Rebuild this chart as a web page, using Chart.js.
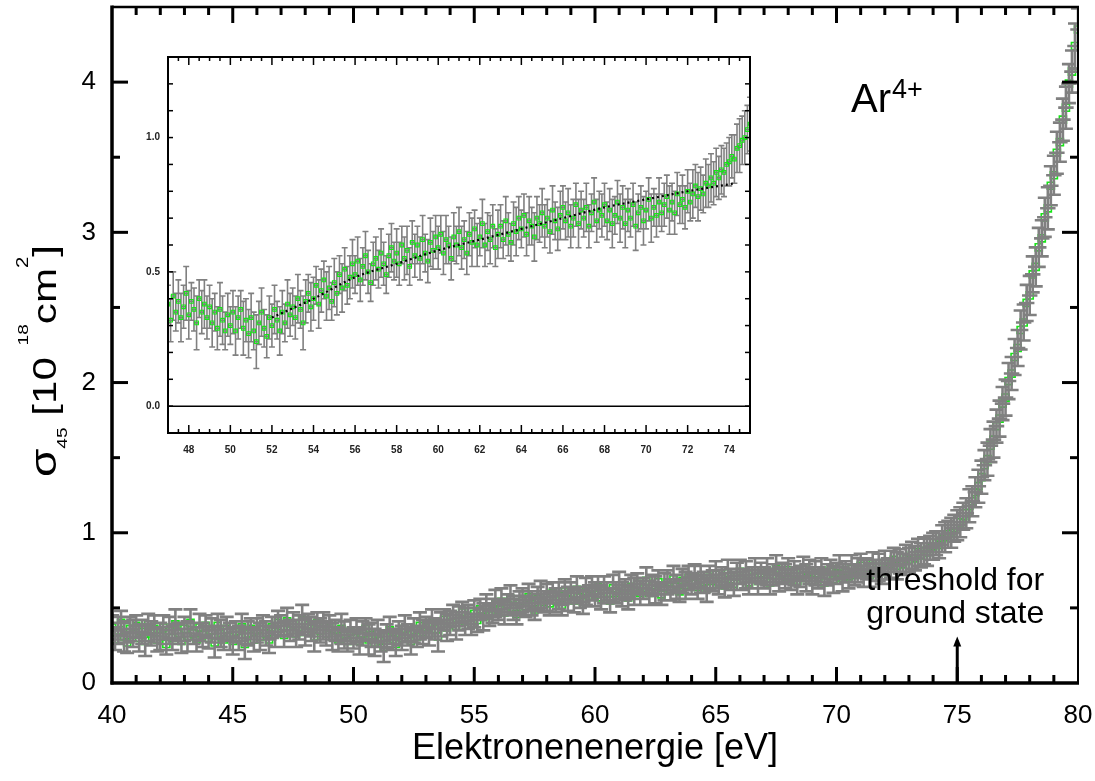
<!DOCTYPE html>
<html><head><meta charset="utf-8">
<script src="https://cdn.jsdelivr.net/npm/chart.js@4.4.1/dist/chart.umd.min.js"></script>
<style>
html,body{margin:0;padding:0;background:#fff;}
#wrap{position:relative;width:1095px;height:781px;overflow:hidden;}
#main{position:absolute;left:0;top:0;}
#inset{position:absolute;left:130px;top:45px;}
</style></head><body>
<div id="wrap"><canvas id="main" width="1095" height="781"></canvas><canvas id="inset" width="630" height="420"></canvas></div>
<script>
// ---------- DATA ----------
const energies = [
 40,40.125,40.25,40.375,40.5,40.625,40.75,40.875,
 41,41.125,41.25,41.375,41.5,41.625,41.75,41.875,
 42,42.125,42.25,42.375,42.5,42.625,42.75,42.875,
 43,43.125,43.25,43.375,43.5,43.625,43.75,43.875,
 44,44.125,44.25,44.375,44.5,44.625,44.75,44.875,
 45,45.125,45.25,45.375,45.5,45.625,45.75,45.875,
 46,46.125,46.25,46.375,46.5,46.625,46.75,46.875,
 47,47.125,47.25,47.375,47.5,47.625,47.75,47.875,
 48,48.125,48.25,48.375,48.5,48.625,48.75,48.875,
 49,49.125,49.25,49.375,49.5,49.625,49.75,49.875,
 50,50.125,50.25,50.375,50.5,50.625,50.75,50.875,
 51,51.125,51.25,51.375,51.5,51.625,51.75,51.875,
 52,52.125,52.25,52.375,52.5,52.625,52.75,52.875,
 53,53.125,53.25,53.375,53.5,53.625,53.75,53.875,
 54,54.125,54.25,54.375,54.5,54.625,54.75,54.875,
 55,55.125,55.25,55.375,55.5,55.625,55.75,55.875,
 56,56.125,56.25,56.375,56.5,56.625,56.75,56.875,
 57,57.125,57.25,57.375,57.5,57.625,57.75,57.875,
 58,58.125,58.25,58.375,58.5,58.625,58.75,58.875,
 59,59.125,59.25,59.375,59.5,59.625,59.75,59.875,
 60,60.125,60.25,60.375,60.5,60.625,60.75,60.875,
 61,61.125,61.25,61.375,61.5,61.625,61.75,61.875,
 62,62.125,62.25,62.375,62.5,62.625,62.75,62.875,
 63,63.125,63.25,63.375,63.5,63.625,63.75,63.875,
 64,64.125,64.25,64.375,64.5,64.625,64.75,64.875,
 65,65.125,65.25,65.375,65.5,65.625,65.75,65.875,
 66,66.125,66.25,66.375,66.5,66.625,66.75,66.875,
 67,67.125,67.25,67.375,67.5,67.625,67.75,67.875,
 68,68.125,68.25,68.375,68.5,68.625,68.75,68.875,
 69,69.125,69.25,69.375,69.5,69.625,69.75,69.875,
 70,70.125,70.25,70.375,70.5,70.625,70.75,70.875,
 71,71.125,71.25,71.375,71.5,71.625,71.75,71.875,
 72,72.125,72.25,72.375,72.5,72.625,72.75,72.875,
 73,73.125,73.25,73.375,73.5,73.625,73.75,73.875,
 74,74.125,74.25,74.375,74.5,74.625,74.75,74.875,
 75,75.125,75.25,75.375,75.5,75.625,75.75,75.875,
 76,76.125,76.25,76.375,76.5,76.625,76.75,76.875,
 77,77.125,77.25,77.375,77.5,77.625,77.75,77.875,
 78,78.125,78.25,78.375,78.5,78.625,78.75,78.875,
 79,79.125,79.25,79.375,79.5,79.625,79.75,79.875,
 80];
const sigma = [
 0.37,0.29,0.35,0.40,0.31,0.27,0.36,0.33,
 0.38,0.30,0.34,0.28,0.39,0.33,0.36,0.29,
 0.31,0.37,0.26,0.35,0.30,0.39,0.33,0.28,
 0.36,0.31,0.40,0.33,0.29,0.37,0.32,0.38,
 0.30,0.35,0.27,0.38,0.33,0.29,0.36,0.31,
 0.28,0.34,0.30,0.37,0.26,0.33,0.36,0.29,
 0.35,0.31,0.38,0.33,0.29,0.37,0.34,0.40,
 0.38,0.32,0.41,0.35,0.39,0.33,0.37,0.42,
 0.34,0.39,0.36,0.31,0.40,0.35,0.38,0.33,
 0.37,0.31,0.35,0.29,0.36,0.32,0.28,0.34,
 0.30,0.35,0.28,0.33,0.36,0.29,0.32,0.27,
 0.33,0.28,0.24,0.31,0.35,0.29,0.26,0.33,
 0.30,0.36,0.32,0.28,0.35,0.31,0.38,0.34,
 0.37,0.33,0.40,0.36,0.31,0.39,0.42,0.37,
 0.40,0.45,0.38,0.43,0.47,0.41,0.44,0.39,
 0.46,0.42,0.49,0.44,0.51,0.45,0.48,0.53,
 0.49,0.54,0.47,0.52,0.56,0.50,0.46,0.53,
 0.55,0.51,0.57,0.53,0.49,0.56,0.59,0.54,
 0.57,0.53,0.60,0.55,0.58,0.52,0.61,0.56,
 0.60,0.55,0.62,0.57,0.54,0.61,0.58,0.63,
 0.59,0.64,0.57,0.62,0.60,0.55,0.63,0.60,
 0.65,0.59,0.62,0.57,0.64,0.61,0.66,0.60,
 0.63,0.68,0.60,0.65,0.62,0.67,0.59,0.64,
 0.67,0.62,0.69,0.64,0.61,0.68,0.65,0.70,
 0.66,0.71,0.64,0.69,0.67,0.63,0.70,0.68,
 0.72,0.67,0.70,0.65,0.73,0.69,0.66,0.71,
 0.74,0.69,0.72,0.67,0.70,0.75,0.68,0.73,
 0.70,0.74,0.67,0.72,0.76,0.69,0.73,0.71,
 0.75,0.69,0.73,0.68,0.71,0.76,0.70,0.74,
 0.68,0.73,0.70,0.75,0.67,0.72,0.74,0.69,
 0.73,0.77,0.70,0.74,0.71,0.76,0.72,0.75,
 0.78,0.73,0.76,0.72,0.79,0.75,0.77,0.74,
 0.80,0.76,0.79,0.82,0.78,0.81,0.79,0.83,
 0.82,0.85,0.83,0.87,0.85,0.88,0.87,0.90,
 0.91,0.93,0.92,0.96,0.97,0.99,1.00,1.03,
 1.05,1.07,1.11,1.13,1.18,1.21,1.27,1.31,
 1.37,1.45,1.49,1.58,1.62,1.71,1.76,1.86,
 1.90,2.01,2.06,2.17,2.23,2.35,2.40,2.53,
 2.58,2.72,2.77,2.90,2.96,3.10,3.16,3.31,
 3.38,3.53,3.60,3.75,3.83,3.99,4.07,4.24,
 4.35];
const sigmaErr = [
 0.08,0.07,0.09,0.08,0.10,0.07,0.08,0.09,
 0.07,0.09,0.08,0.10,0.07,0.08,0.09,0.08,
 0.09,0.08,0.07,0.09,0.08,0.10,0.07,0.08,
 0.08,0.10,0.09,0.07,0.08,0.09,0.08,0.07,
 0.07,0.08,0.10,0.08,0.09,0.07,0.08,0.09,
 0.09,0.07,0.08,0.09,0.10,0.08,0.07,0.08,
 0.08,0.09,0.07,0.08,0.09,0.07,0.10,0.08,
 0.07,0.08,0.09,0.07,0.08,0.09,0.08,0.10,
 0.09,0.07,0.08,0.10,0.07,0.08,0.09,0.08,
 0.08,0.09,0.07,0.08,0.10,0.09,0.07,0.08,
 0.07,0.08,0.09,0.08,0.07,0.10,0.08,0.09,
 0.09,0.07,0.10,0.08,0.09,0.07,0.08,0.08,
 0.08,0.09,0.07,0.09,0.08,0.07,0.09,0.08,
 0.07,0.08,0.09,0.07,0.10,0.08,0.07,0.09,
 0.08,0.07,0.09,0.08,0.07,0.09,0.08,0.07,
 0.09,0.08,0.07,0.09,0.08,0.07,0.08,0.09,
 0.07,0.09,0.08,0.07,0.09,0.08,0.07,0.08,
 0.08,0.07,0.09,0.08,0.07,0.08,0.09,0.07,
 0.09,0.08,0.07,0.08,0.09,0.07,0.08,0.08,
 0.07,0.08,0.09,0.07,0.08,0.09,0.07,0.08,
 0.08,0.07,0.08,0.09,0.07,0.08,0.09,0.07,
 0.09,0.08,0.07,0.08,0.08,0.09,0.07,0.08,
 0.07,0.09,0.08,0.07,0.09,0.08,0.07,0.09,
 0.08,0.07,0.09,0.08,0.07,0.08,0.09,0.08,
 0.07,0.08,0.08,0.09,0.07,0.09,0.08,0.07,
 0.09,0.08,0.07,0.08,0.09,0.07,0.08,0.09,
 0.08,0.07,0.09,0.08,0.07,0.08,0.09,0.07,
 0.07,0.09,0.08,0.07,0.09,0.08,0.07,0.08,
 0.08,0.07,0.08,0.09,0.07,0.08,0.09,0.08,
 0.09,0.08,0.07,0.08,0.09,0.07,0.08,0.09,
 0.07,0.08,0.09,0.07,0.08,0.09,0.07,0.08,
 0.08,0.09,0.07,0.08,0.08,0.07,0.09,0.08,
 0.08,0.07,0.09,0.08,0.09,0.08,0.07,0.09,
 0.08,0.09,0.08,0.09,0.08,0.09,0.09,0.08,
 0.09,0.08,0.09,0.09,0.10,0.09,0.10,0.09,
 0.10,0.10,0.09,0.10,0.11,0.10,0.10,0.11,
 0.11,0.10,0.11,0.11,0.12,0.11,0.12,0.11,
 0.12,0.12,0.11,0.12,0.12,0.13,0.12,0.12,
 0.13,0.12,0.13,0.13,0.12,0.13,0.14,0.13,
 0.13,0.14,0.13,0.14,0.14,0.13,0.14,0.15,
 0.14];
const energyErrMain = 0.32;
const energyErrInset = 0.12;
const fitEnergies = [52, 54, 56, 58, 60, 62, 64, 66, 68, 70, 72, 74.3];
const fitSigma    = [0.33,0.40,0.48,0.53,0.58,0.62,0.66,0.70,0.74,0.77,0.80,0.83];
const mainXTicks = [40,45,50,55,60,65,70,75,80];
const mainYTicks = [0,1,2,3,4];
const insetXTicks = [48,50,52,54,56,58,60,62,64,66,68,70,72,74];
const insetYTicks = [0.0,0.5,1.0];
const thresholdEnergy = 75;
const ionLabel = 'Ar';
const ionCharge = '4+';
const thresholdLines = ['threshold for', 'ground state'];
const xTitle = 'Elektronenenergie [eV]';

// ---------- helpers ----------
const FONT = "'Liberation Sans', Arial, Helvetica, sans-serif";
const GREEN = '#16e616';
const GRAY = '#808080';

const mainPoints = energies.map((e,i)=>({x:e, y:sigma[i], err:sigmaErr[i]}));
const insetPoints = mainPoints.filter(p => p.x >= 47 && p.x <= 75);
const fitPoints = fitEnergies.map((e,i)=>({x:e, y:fitSigma[i]}));

function drawBars(chart, o) {
  const {ctx, scales:{x,y}, chartArea:a} = chart;
  const ds = chart.data.datasets[0].data;
  ctx.save();
  ctx.beginPath(); ctx.rect(a.left, a.top-4, a.right-a.left, a.bottom-a.top+4); ctx.clip();
  ctx.strokeStyle = o.color; ctx.lineWidth = o.lw; ctx.lineCap = 'butt';
  ctx.beginPath();
  for (const p of ds) {
    const px = x.getPixelForValue(p.x), py = y.getPixelForValue(p.y);
    const t = y.getPixelForValue(p.y + p.err), b = y.getPixelForValue(p.y - p.err);
    const l = x.getPixelForValue(p.x - o.xErr), r = x.getPixelForValue(p.x + o.xErr);
    ctx.moveTo(px, t); ctx.lineTo(px, b);
    ctx.moveTo(px - o.cap, t); ctx.lineTo(px + o.cap, t);
    ctx.moveTo(px - o.cap, b); ctx.lineTo(px + o.cap, b);
    ctx.moveTo(l, py); ctx.lineTo(r, py);
  }
  ctx.stroke(); ctx.restore();
}
// o.under: bars drawn under the points (true) or over them (false)
function errorBars(id, o) {
  return {
    id,
    beforeDatasetDraw(chart, args) { if (args.index === 0 && o.under) drawBars(chart, o); },
    afterDatasetDraw(chart, args) { if (args.index === 0 && !o.under) drawBars(chart, o); }
  };
}

function seg(ctx, x1, y1, x2, y2) { ctx.beginPath(); ctx.moveTo(x1,y1); ctx.lineTo(x2,y2); ctx.stroke(); }
function stepValues(a, b, s) { const out=[]; for (let v=a; v<=b+1e-9; v+=s) out.push(+v.toFixed(4)); return out; }

const mainFrame = { id:'mainFrame', afterDraw(chart) {
  const {ctx, chartArea:a, scales:{x,y}} = chart;
  ctx.save();
  ctx.strokeStyle = '#000'; ctx.fillStyle = '#000'; ctx.lineCap = 'butt';
  ctx.lineWidth = 3;
  for (const v of stepValues(41, 79, 1)) {
    const px = x.getPixelForValue(v);
    const len = (v % 5 === 0) ? 16 : 8;
    seg(ctx, px, a.bottom, px, a.bottom - len);
    seg(ctx, px, a.top, px, a.top + len);
  }
  for (const v of stepValues(0.5, 4.5, 0.5)) {
    const py = y.getPixelForValue(v);
    const len = Number.isInteger(v) ? 16 : 8;
    if (py < a.top + 2) continue;
    seg(ctx, a.left, py, a.left + len, py);
    seg(ctx, a.right, py, a.right - len, py);
  }
  ctx.lineWidth = 3.5;
  seg(ctx, a.left, a.top - 1.5, a.left, a.bottom + 1.5);
  seg(ctx, a.left - 1.5, a.bottom, a.right + 1, a.bottom);
  ctx.lineWidth = 2.5;
  seg(ctx, a.left, a.top, a.right + 1, a.top);
  ctx.lineWidth = 2;
  seg(ctx, a.right, a.top, a.right, a.bottom);
  // threshold arrow
  const ax = x.getPixelForValue(thresholdEnergy);
  const ay0 = y.getPixelForValue(0), ay1 = y.getPixelForValue(0.31);
  ctx.lineWidth = 3;
  seg(ctx, ax, ay0, ax, ay1 + 4);
  ctx.beginPath(); ctx.moveTo(ax, ay1); ctx.lineTo(ax - 4, ay1 + 10); ctx.lineTo(ax + 4, ay1 + 10); ctx.closePath(); ctx.fill();
  // texts
  ctx.textAlign = 'center'; ctx.textBaseline = 'alphabetic';
  ctx.font = '32px ' + FONT;
  ctx.fillText(thresholdLines[0], ax - 2, 590);
  ctx.fillText(thresholdLines[1], ax - 2, 623);
  ctx.textAlign = 'left';
  ctx.font = '40px ' + FONT;
  ctx.fillText(ionLabel, 851, 112);
  const w = ctx.measureText(ionLabel).width;
  ctx.font = '27px ' + FONT;
  ctx.fillText(ionCharge, 851 + w + 1, 98);
  ctx.textAlign = 'center';
  ctx.font = '36px ' + FONT;
  ctx.fillText(xTitle, 595, 759);
  // y title (rotated, with sub/superscripts)
  const parts = [
    {t:'σ', f:36, dy:0},
    {t:'45', f:15, dy:11},
    {t:' [10 ', f:33, dy:0},
    {t:'18', f:15, dy:-28},
    {t:'cm', f:33, dy:0},
    {t:'2', f:16, dy:-28},
    {t:']', f:33, dy:0}
  ];
  let total = 0;
  for (const p of parts) { ctx.font = p.f + 'px ' + FONT; p.w = ctx.measureText(p.t).width; total += p.w; }
  const k = 232 / total;
  ctx.translate(56, 477); ctx.rotate(-Math.PI/2); ctx.scale(k, 1);
  ctx.textAlign = 'left';
  let cx = 0;
  for (const p of parts) { ctx.font = p.f + 'px ' + FONT; ctx.fillText(p.t, cx, p.dy); cx += p.w; }
  ctx.restore();
}};

const insetFrame = { id:'insetFrame',
  beforeDraw(chart) { const c = chart.ctx; c.save(); c.fillStyle = '#fff'; c.fillRect(0,0,chart.width,chart.height); c.restore(); },
  afterDraw(chart) {
  const {ctx, chartArea:a, scales:{x,y}} = chart;
  ctx.save(); ctx.strokeStyle = '#000'; ctx.lineWidth = 1.5;
  for (const v of stepValues(47.5, 74.5, 0.5)) {
    const px = x.getPixelForValue(v);
    const len = (v % 2 === 0) ? 8 : 4;
    seg(ctx, px, a.bottom, px, a.bottom - len);
    seg(ctx, px, a.top, px, a.top + len);
  }
  for (const v of stepValues(0, 1.2, 0.1)) {
    const py = y.getPixelForValue(v);
    seg(ctx, a.left, py, a.left + 5, py);
    seg(ctx, a.right, py, a.right - 5, py);
  }
  const zy = y.getPixelForValue(0);
  seg(ctx, a.left, zy, a.right, zy);
  ctx.lineWidth = 2;
  ctx.strokeRect(a.left, a.top, a.right - a.left, a.bottom - a.top);
  ctx.restore();
}};

Chart.defaults.font.family = FONT;
Chart.defaults.color = '#000';

function noPadX(s, h) { s.height = h; s.paddingLeft = 0; s.paddingRight = 0; }
function noPadY(s, w) { s.width = w; s.paddingTop = 0; s.paddingBottom = 0; }

new Chart(document.getElementById('main'), {
  type: 'scatter',
  data: { datasets: [{ data: mainPoints, pointStyle:'rect', pointRadius:5, pointBorderWidth:1.6,
      borderColor: GREEN, backgroundColor:'rgba(0,0,0,0)', showLine:false }] },
  options: {
    responsive:false, animation:false, devicePixelRatio:1,
    layout:{ padding:{ top:7, right:17, left:0, bottom:0 } },
    plugins:{ legend:{display:false}, tooltip:{enabled:false} },
    scales:{
      x:{ type:'linear', min:40, max:80,
          afterBuildTicks: s => { s.ticks = mainXTicks.map(v=>({value:v})); },
          afterFit: s => noPadX(s, 98),
          ticks:{ font:{size:26, family:FONT}, color:'#000', padding:17, maxRotation:0, autoSkip:false },
          grid:{ display:false, drawTicks:false }, border:{ display:false } },
      y:{ type:'linear', min:0, max:4.5,
          afterBuildTicks: s => { s.ticks = mainYTicks.map(v=>({value:v})); },
          afterFit: s => noPadY(s, 112),
          ticks:{ font:{size:26, family:FONT}, color:'#000', padding:16, autoSkip:false },
          grid:{ display:false, drawTicks:false }, border:{ display:false } }
    }
  },
  plugins:[ errorBars('mainErr', {color:GRAY, lw:2.6, cap:7, xErr:energyErrMain, under:false}), mainFrame ]
});

new Chart(document.getElementById('inset'), {
  type: 'scatter',
  data: { datasets: [
    { data: insetPoints, order:2, pointStyle:'rect', pointRadius:2.6, pointBorderWidth:1.1,
      borderColor: GREEN, backgroundColor:'rgba(0,0,0,0)', showLine:false },
    { data: fitPoints, order:1, showLine:true, pointRadius:0, borderColor:'#000', borderWidth:2.2,
      borderDash:[2,3], cubicInterpolationMode:'monotone', fill:false }
  ] },
  options: {
    responsive:false, animation:false, devicePixelRatio:1,
    layout:{ padding:{ top:12, right:10, left:0, bottom:0 } },
    plugins:{ legend:{display:false}, tooltip:{enabled:false} },
    scales:{
      x:{ type:'linear', min:47, max:75,
          afterBuildTicks: s => { s.ticks = insetXTicks.map(v=>({value:v})); },
          afterFit: s => noPadX(s, 32),
          ticks:{ font:{size:10, family:FONT, weight:'bold'}, color:'#222', padding:11, maxRotation:0, autoSkip:false },
          grid:{ display:false, drawTicks:false }, border:{ display:false } },
      y:{ type:'linear', min:-0.1, max:1.3,
          afterBuildTicks: s => { s.ticks = insetYTicks.map(v=>({value:v})); },
          afterFit: s => noPadY(s, 38),
          ticks:{ font:{size:10, family:FONT, weight:'bold'}, color:'#222', padding:8, autoSkip:false,
                  callback: v => Number(v).toFixed(1) },
          grid:{ display:false, drawTicks:false }, border:{ display:false } }
    }
  },
  plugins:[ errorBars('insetErr', {color:GRAY, lw:1.6, cap:3, xErr:energyErrInset, under:true}), insetFrame ]
});
</script>
</body></html>
